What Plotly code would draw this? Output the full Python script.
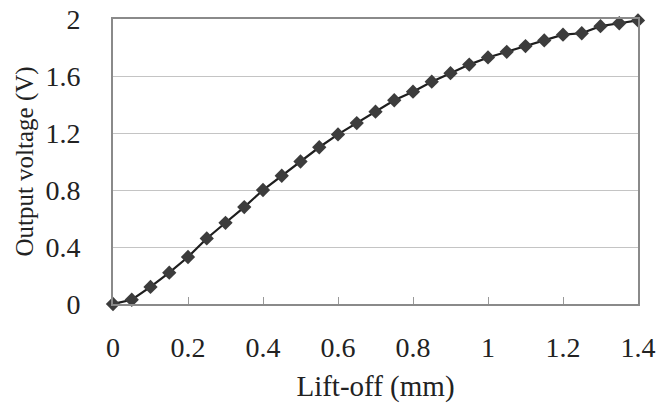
import plotly.graph_objects as go

lift_off_mm = [0.0, 0.05, 0.1, 0.15, 0.2, 0.25, 0.3, 0.35, 0.4, 0.45, 0.5, 0.55, 0.6, 0.65, 0.7,
               0.75, 0.8, 0.85, 0.9, 0.95, 1.0, 1.05, 1.1, 1.15, 1.2, 1.25, 1.3, 1.35, 1.4]
output_voltage_v = [0.0, 0.03, 0.12, 0.22, 0.33, 0.46, 0.57, 0.68, 0.80, 0.90, 1.00, 1.10, 1.19, 1.27, 1.35,
                    1.43, 1.49, 1.56, 1.62, 1.68, 1.73, 1.77, 1.81, 1.85, 1.89, 1.90, 1.95, 1.97, 1.99]
x_ticks = [0, 0.2, 0.4, 0.6, 0.8, 1.0, 1.2, 1.4]
x_tick_labels = ["0", "0.2", "0.4", "0.6", "0.8", "1", "1.2", "1.4"]
y_ticks = [0, 0.4, 0.8, 1.2, 1.6, 2.0]
y_tick_labels = ["0", "0.4", "0.8", "1.2", "1.6", "2"]

family = "Liberation Serif, Times New Roman, serif"
tick_font = dict(family=family, size=28, color="#222222")

fig = go.Figure(go.Scatter(
    x=lift_off_mm, y=output_voltage_v, mode="lines+markers",
    line=dict(color="#1e1e1e", width=2.2),
    marker=dict(symbol="diamond", size=11, color="#3c3c3c"),
    cliponaxis=False, showlegend=False,
))

fig.update_layout(
    width=656, height=403,
    margin=dict(l=113, r=18, t=19, b=99),
    paper_bgcolor="white", plot_bgcolor="white",
    font=tick_font,
)
fig.update_xaxes(
    range=[0, 1.4], tickvals=x_ticks, ticktext=x_tick_labels,
    ticks="inside", ticklen=7, tickcolor="#999999", tickwidth=1,
    showgrid=False, zeroline=False,
    showline=True, linecolor="#8a8a8a", linewidth=2, mirror=True,
    ticklabelstandoff=17, automargin=False, tickfont=tick_font,
    ticklabeloverflow="allow",
    title=dict(text="Lift-off (mm)", standoff=21,
               font=dict(family=family, size=29, color="#222222")),
)
fig.update_yaxes(
    range=[0, 2], tickvals=y_ticks, ticktext=y_tick_labels,
    ticks="", showgrid=True, gridcolor="#c4c4c4", gridwidth=1, zeroline=False,
    showline=True, linecolor="#8a8a8a", linewidth=2, mirror=True,
    ticklabelstandoff=25, automargin=False, tickfont=tick_font,
    ticklabeloverflow="allow",
    title=dict(text="Output voltage (V)", standoff=5,
               font=dict(family=family, size=25, color="#222222")),
)

# remove the default 8px page margin so the 656x403 figure fills the window exactly
fig.write_html(
    "out.html",
    config={"displayModeBar": False},
    post_script="document.body.style.margin='0';document.body.style.overflow='hidden';",
)
